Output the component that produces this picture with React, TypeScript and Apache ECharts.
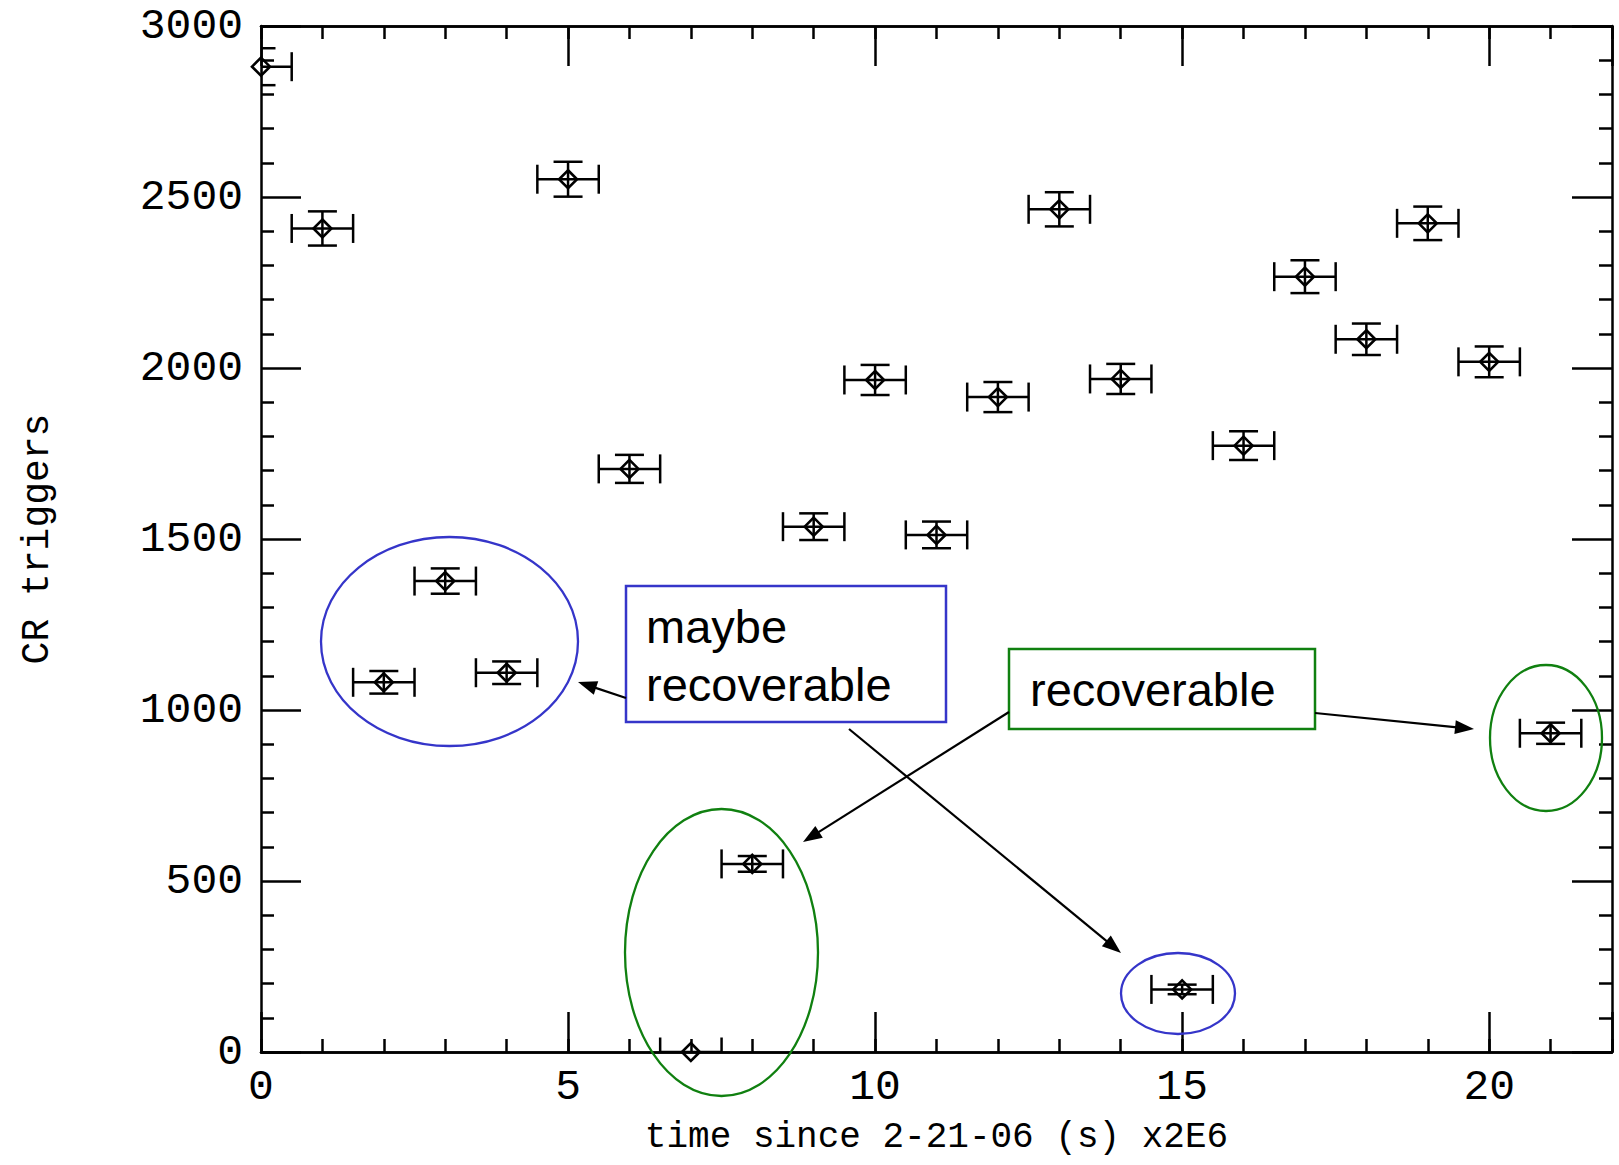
import React, { useEffect, useRef } from "react";
import * as echarts from "echarts";

// ---- data ----
const timeBins = [0, 1, 2, 3, 4, 5, 6, 7, 8, 9, 10, 11, 12, 13, 14, 15, 16, 17, 18, 19, 20, 21];
const crTriggers = [2881, 2408, 1081, 1377, 1109, 2552, 1705, 0, 550, 1536, 1965, 1512, 1915, 2464, 1968, 183, 1773, 2267, 2084, 2423, 2018, 932];
const crErrors = [54, 50, 33, 37, 33, 51, 41, 0, 23, 39, 44, 39, 44, 50, 44, 14, 42, 48, 46, 49, 45, 31];
const binHalfWidth = 0.5;

const xTitle = "time since 2-21-06 (s) x2E6";
const yTitle = "CR triggers";
const maybeText = "maybe\nrecoverable";
const recText = "recoverable";

const BLUE = "#3535c9";
const GREEN = "#108010";
const MONO = "'Liberation Mono', 'DejaVu Sans Mono', monospace";
const SANS = "'Liberation Sans', Arial, sans-serif";

function arrow(x1: number, y1: number, x2: number, y2: number) {
  const len = 19;
  const hw = 7;
  const dx = x2 - x1;
  const dy = y2 - y1;
  const d = Math.sqrt(dx * dx + dy * dy);
  const ux = dx / d;
  const uy = dy / d;
  const bx = x2 - ux * len;
  const by = y2 - uy * len;
  return [
    {
      type: "line",
      z: 100,
      shape: { x1, y1, x2: bx + ux * 2, y2: by + uy * 2 },
      style: { stroke: "#000", lineWidth: 2.2 },
    },
    {
      type: "polygon",
      z: 100,
      shape: {
        points: [
          [x2, y2],
          [bx - uy * hw, by + ux * hw],
          [bx + uy * hw, by - ux * hw],
        ],
      },
      style: { fill: "#000" },
    },
  ];
}

function ellipse(cx: number, cy: number, rx: number, ry: number, color: string) {
  return {
    type: "ellipse",
    z: 100,
    shape: { cx, cy, rx, ry },
    style: { fill: "none", stroke: color, lineWidth: 2.3 },
  };
}

export default function App() {
  const ref = useRef<HTMLDivElement>(null);

  useEffect(() => {
    if (!ref.current) return;
    const chart = echarts.init(ref.current, undefined, { renderer: "svg" });

    const errData = timeBins.map((x, i) => [x, crTriggers[i], crErrors[i]]);
    const ptData = timeBins.map((x, i) => [x, crTriggers[i]]);

    const lineW = 2.5;
    const axisLine = { show: true, onZero: false, lineStyle: { color: "#000", width: lineW } };
    const majorTick = { show: true, inside: true, length: 40, lineStyle: { color: "#000", width: lineW } };
    const smallTick = { show: true, inside: true, length: 13, lineStyle: { color: "#000", width: lineW } };
    const minorTick = { show: true, splitNumber: 5, length: 13, lineStyle: { color: "#000", width: lineW } };

    const option: any = {
      animation: false,
      backgroundColor: "#fff",
      grid: { left: 261, top: 26, right: 7, bottom: 113, containLabel: false },
      xAxis: [
        {
          type: "value",
          position: "bottom",
          min: 0,
          max: 22,
          interval: 5,
          axisLine,
          axisTick: majorTick,
          axisLabel: {
            show: true,
            margin: 14,
            color: "#000",
            fontFamily: MONO,
            fontSize: 43,
            formatter: (v: number) => (v % 5 === 0 ? String(v) : ""),
          },
          splitLine: { show: false },
          name: xTitle,
          nameLocation: "middle",
          nameGap: 67,
          nameTextStyle: { color: "#000", fontFamily: MONO, fontSize: 36 },
        },
        {
          type: "value",
          position: "bottom",
          min: 0,
          max: 22,
          interval: 1,
          axisLine,
          axisTick: smallTick,
          axisLabel: { show: false },
          splitLine: { show: false },
        },
        {
          type: "value",
          position: "top",
          min: 0,
          max: 22,
          interval: 5,
          axisLine,
          axisTick: majorTick,
          axisLabel: { show: false },
          splitLine: { show: false },
        },
        {
          type: "value",
          position: "top",
          min: 0,
          max: 22,
          interval: 1,
          axisLine,
          axisTick: smallTick,
          axisLabel: { show: false },
          splitLine: { show: false },
        },
      ],
      yAxis: [
        {
          type: "value",
          position: "left",
          min: 0,
          max: 3000,
          interval: 500,
          axisLine,
          axisTick: majorTick,
          minorTick,
          axisLabel: {
            show: true,
            margin: 18,
            color: "#000",
            fontFamily: MONO,
            fontSize: 43,
            formatter: (v: number) => String(v),
          },
          splitLine: { show: false },
          minorSplitLine: { show: false },
          name: yTitle,
          nameLocation: "middle",
          nameGap: 205,
          nameRotate: 90,
          nameTextStyle: { color: "#000", fontFamily: MONO, fontSize: 38 },
        },
        {
          type: "value",
          position: "right",
          min: 0,
          max: 3000,
          interval: 500,
          axisLine,
          axisTick: majorTick,
          minorTick,
          axisLabel: { show: false },
          splitLine: { show: false },
          minorSplitLine: { show: false },
        },
      ],
      series: [
        {
          type: "custom",
          name: "error bars",
          xAxisIndex: 0,
          yAxisIndex: 0,
          clip: true,
          z: 3,
          data: errData,
          renderItem: (params: any, api: any) => {
            const x = api.value(0);
            const y = api.value(1);
            const e = api.value(2);
            const c = api.coord([x, y]);
            const l = api.coord([x - binHalfWidth, y]);
            const r = api.coord([x + binHalfWidth, y]);
            const t = api.coord([x, y + e]);
            const b = api.coord([x, y - e]);
            const cap = 14.5;
            const style = { stroke: "#000", lineWidth: lineW, fill: "none" };
            const children: any[] = [
              { type: "line", shape: { x1: l[0], y1: c[1], x2: r[0], y2: c[1] }, style },
              { type: "line", shape: { x1: l[0], y1: c[1] - cap, x2: l[0], y2: c[1] + cap }, style },
              { type: "line", shape: { x1: r[0], y1: c[1] - cap, x2: r[0], y2: c[1] + cap }, style },
            ];
            if (e > 0) {
              children.push(
                { type: "line", shape: { x1: c[0], y1: t[1], x2: c[0], y2: b[1] }, style },
                { type: "line", shape: { x1: c[0] - cap, y1: t[1], x2: c[0] + cap, y2: t[1] }, style },
                { type: "line", shape: { x1: c[0] - cap, y1: b[1], x2: c[0] + cap, y2: b[1] }, style }
              );
            }
            return { type: "group", children };
          },
        },
        {
          type: "scatter",
          name: "CR triggers",
          xAxisIndex: 0,
          yAxisIndex: 0,
          clip: false,
          z: 4,
          symbol: "diamond",
          symbolSize: 18,
          itemStyle: { color: "rgba(0,0,0,0)", borderColor: "#000", borderWidth: 2.6, opacity: 1 },
          emphasis: { disabled: true },
          data: ptData,
        },
      ],
      graphic: [
        ellipse(449.5, 641.5, 128.5, 104.5, BLUE),
        ellipse(721.5, 952.5, 96.5, 143.5, GREEN),
        ellipse(1178, 993.5, 57, 40.5, BLUE),
        ellipse(1546, 738, 56, 73, GREEN),
        {
          type: "rect",
          z: 100,
          shape: { x: 626, y: 586, width: 320, height: 136 },
          style: { fill: "#fff", stroke: BLUE, lineWidth: 2.5 },
        },
        {
          type: "text",
          z: 101,
          style: {
            text: maybeText,
            x: 646,
            y: 597,
            fill: "#000",
            fontFamily: SANS,
            fontSize: 47,
            lineHeight: 58,
            textAlign: "left",
            textVerticalAlign: "top",
          },
        },
        {
          type: "rect",
          z: 100,
          shape: { x: 1009, y: 649, width: 306, height: 80 },
          style: { fill: "#fff", stroke: GREEN, lineWidth: 2.5 },
        },
        {
          type: "text",
          z: 101,
          style: {
            text: recText,
            x: 1030,
            y: 660,
            fill: "#000",
            fontFamily: SANS,
            fontSize: 47,
            lineHeight: 58,
            textAlign: "left",
            textVerticalAlign: "top",
          },
        },
        ...arrow(626, 698, 578, 682),
        ...arrow(849, 729, 1121, 953),
        ...arrow(1009, 712, 803, 842),
        ...arrow(1315, 713, 1474, 729),
      ],
    };

    chart.setOption(option);
    return () => chart.dispose();
  }, []);

  return (
    <div
      ref={ref}
      style={{ position: "absolute", left: 0, top: 0, width: 1619, height: 1165, background: "#fff" }}
    />
  );
}
